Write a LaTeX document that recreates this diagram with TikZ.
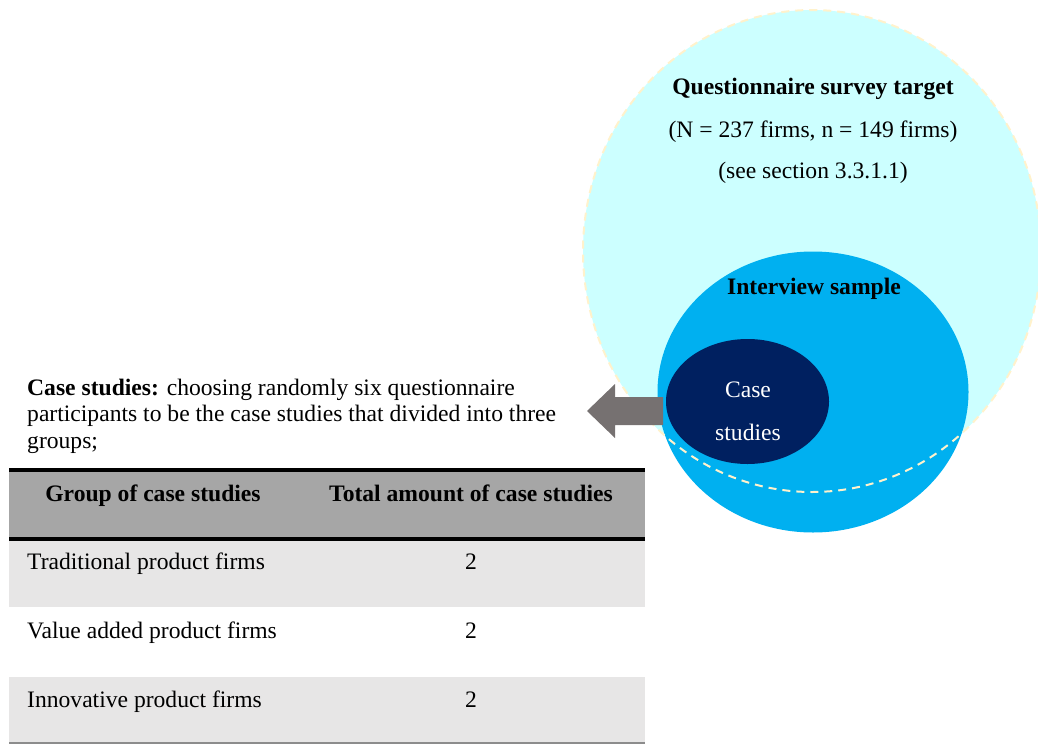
\documentclass[tikz,border=0pt]{standalone}
\usepackage{fontspec}
\setmainfont{Liberation Serif}
\usetikzlibrary{shapes.geometric}
\definecolor{surveyc}{HTML}{CCFFFF}
\definecolor{interc}{HTML}{00B0F0}
\definecolor{casec}{HTML}{002060}
\definecolor{arrowc}{HTML}{767171}
\definecolor{headc}{HTML}{A6A6A6}
\definecolor{rowc}{HTML}{E7E6E6}
\definecolor{dashc}{HTML}{FFF2CC}
\definecolor{rulec}{HTML}{8C8C8C}
\begin{document}
\begin{tikzpicture}[x=1pt,y=-1pt,
  txt/.style={font=\fontsize{23.6}{27}\selectfont, inner sep=0pt, anchor=base},
  txtl/.style={txt, anchor=base west},
  bold/.style={txt, font=\fontsize{23.6}{27}\selectfont\bfseries},
  oval/.style={ellipse, inner sep=0pt, draw=none},
  dashline/.style={draw=dashc, line width=2pt, dash pattern=on 8pt off 6pt},
  thickrule/.style={line width=4pt, black},
  thinrule/.style={line width=2pt, rulec}]
\useasboundingbox (0,0) rectangle (1038,744);
\clip (0,0) rectangle (1038,744);

% ellipses
\node[oval, fill=surveyc, minimum width=458pt, minimum height=482pt] (survey) at (812,251) {};
\node[oval, fill=interc, minimum width=311pt, minimum height=281pt] (interview) at (813,392) {};
\draw[dashline] (812,251) ellipse [x radius=229pt, y radius=241pt];

% arrow
\coordinate (a1) at (663,397);
\fill[arrowc] (a1) -- (615,397) -- (615,384) -- (587,411) -- (615,438) -- (615,425) -- (663,425) -- cycle;

\node[oval, fill=casec, minimum width=163pt, minimum height=125pt] (case) at (747.5,401.5) {};

% circle texts
\node[bold] (qst) at (813,94) {Questionnaire survey target};
\node[txt] (qn) at (813,137) {(N = 237 firms, n = 149 firms)};
\node[txt] (qs) at (813,178) {(see section 3.3.1.1)};
\node[bold] (ist) at (814,294) {Interview sample};
\node[txt, text=white] (cs1) at (748,397) {Case};
\node[txt, text=white] (cs2) at (748,440) {studies};

% paragraph
\node[txtl] (p1) at (27,395) {\textbf{Case studies:} choosing randomly six questionnaire};
\node[txtl] (p2) at (27,421.5) {participants to be the case studies that divided into three};
\node[txtl] (p3) at (27,448) {groups;};

% table
\fill[headc] (9,470) rectangle (645,539);
\fill[rowc] (9,539) rectangle (645,607);
\fill[rowc] (9,677) rectangle (645,743);
\draw[thickrule] (9,470) -- (645,470);
\draw[thickrule] (9,539) -- (645,539);
\draw[thinrule] (9,743) -- (645,743);

\node[bold] (h1) at (153,501) {Group of case studies};
\node[bold] (h2) at (471,501) {Total amount of case studies};
\node[txtl] (r1) at (27,569) {Traditional product firms};
\node[txtl] (r2) at (27,638) {Value added product firms};
\node[txtl] (r3) at (27,707) {Innovative product firms};
\node[txt] (n1) at (471,569) {2};
\node[txt] (n2) at (471,638) {2};
\node[txt] (n3) at (471,707) {2};
\end{tikzpicture}
\end{document}
